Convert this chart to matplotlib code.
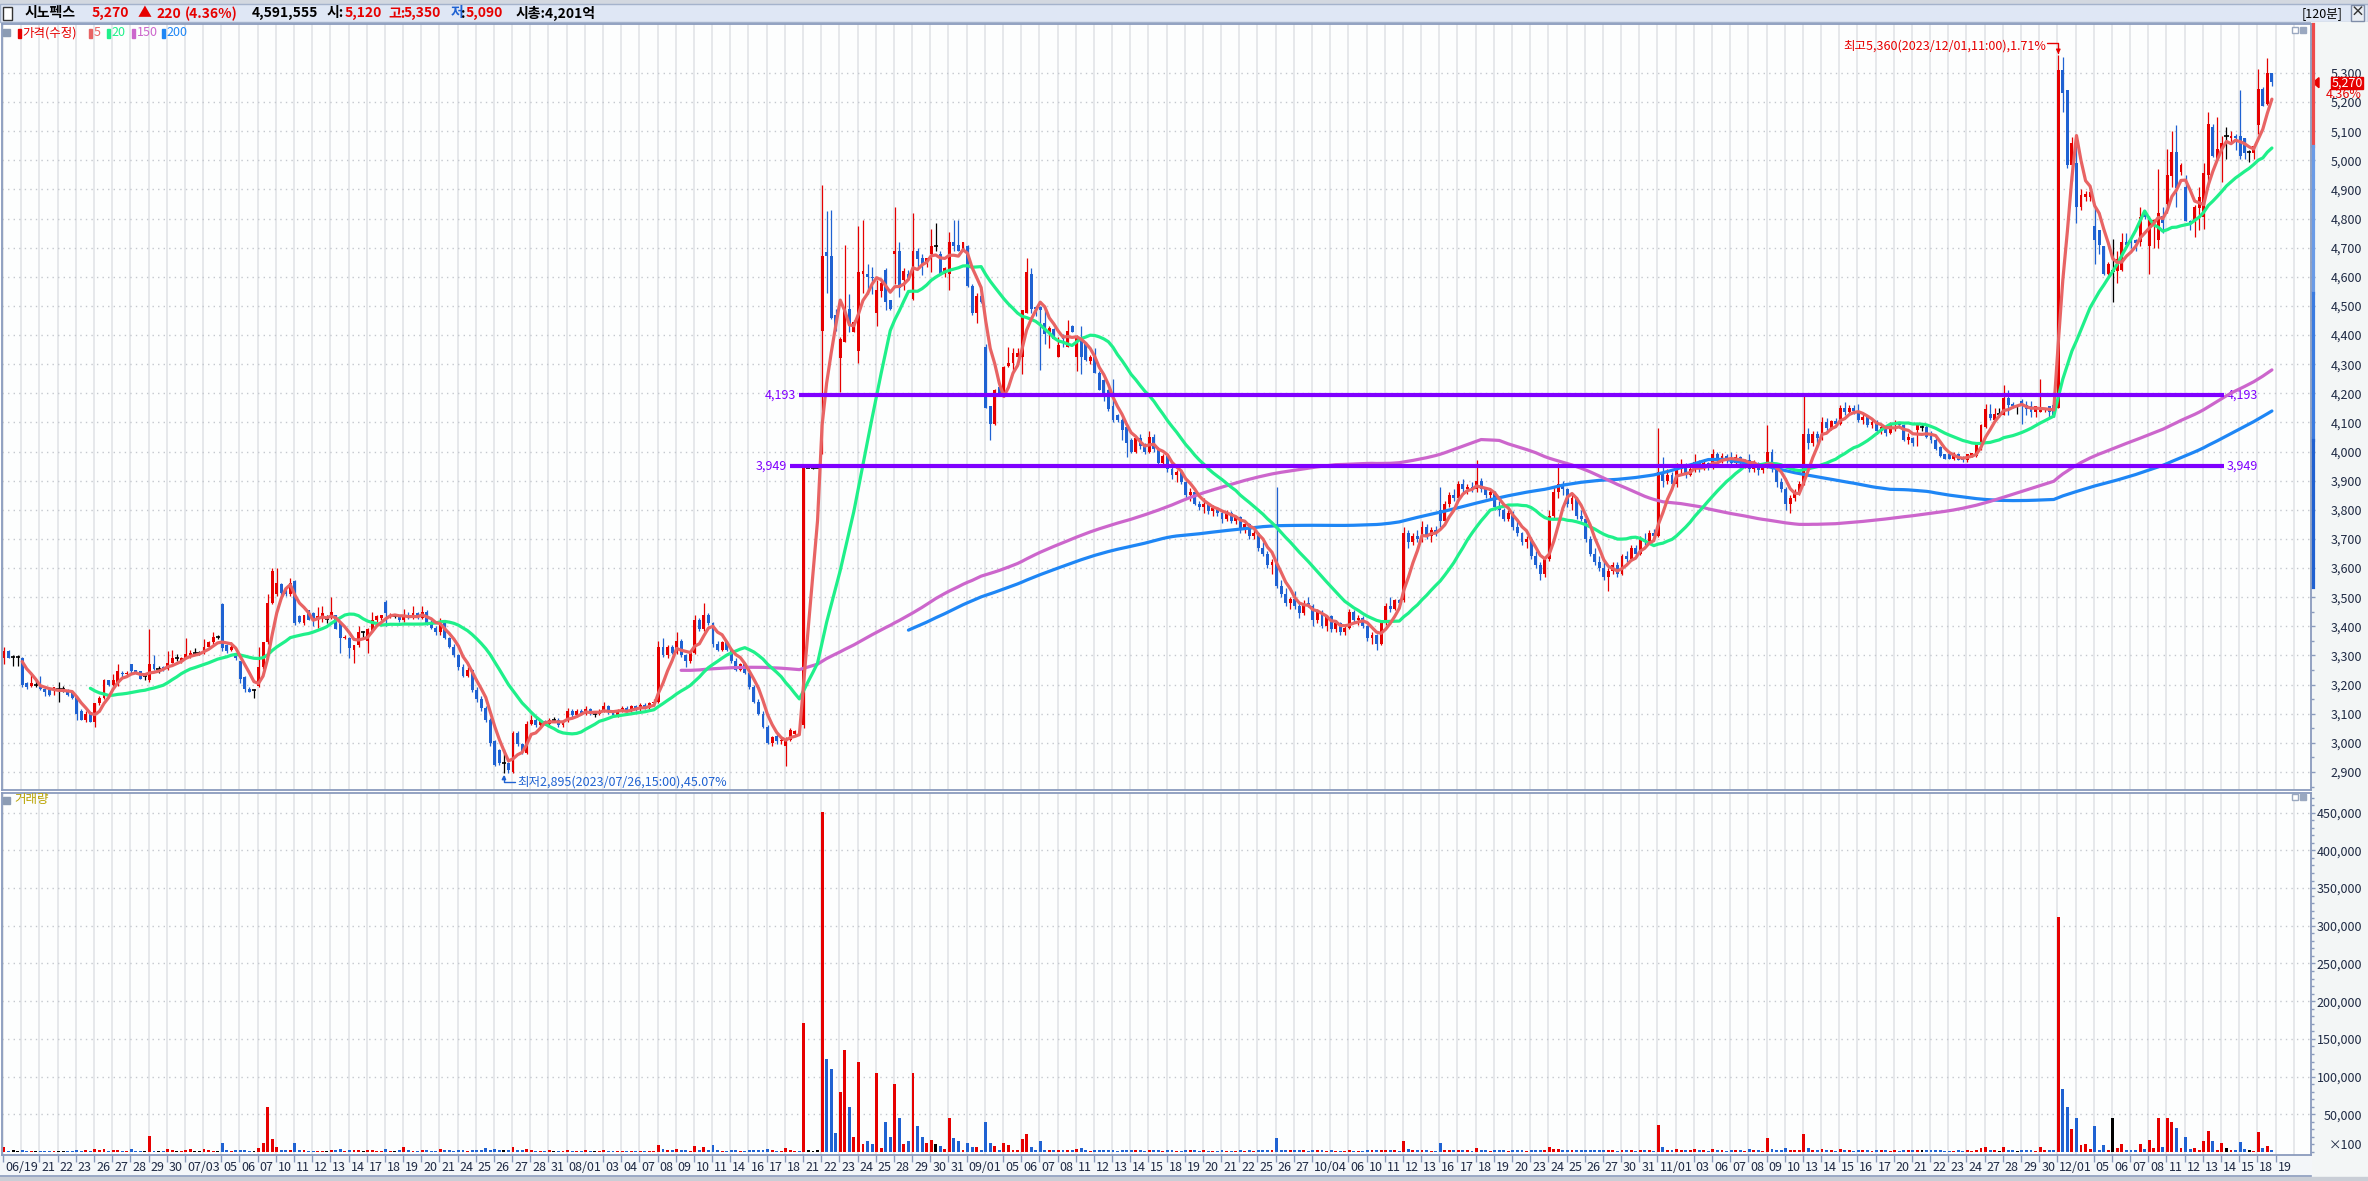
import numpy as np
import pandas as pd
import matplotlib
matplotlib.use("Agg")
import matplotlib.pyplot as plt
import matplotlib.transforms as mtransforms
from matplotlib.patches import Rectangle, Polygon
from matplotlib.ticker import FuncFormatter

plt.rcParams['font.family'] = ['Noto Sans CJK KR', 'DejaVu Sans']
plt.rcParams['font.size'] = 9

# trading days on the axis ('' where the chart skips the label), 4 bars of 120 min per day
days = ["06/19", "", "21", "22", "23", "26", "27", "28", "29", "30",
        "07/03", "", "05", "06", "07", "10", "11", "12", "13", "14", "17", "18", "19", "20", "21",
        "24", "25", "26", "27", "28", "31",
        "08/01", "", "03", "04", "07", "08", "09", "10", "11", "14", "16", "17", "18", "21", "22",
        "23", "24", "25", "28", "29", "30", "31",
        "09/01", "", "05", "06", "07", "08", "11", "12", "13", "14", "15", "18", "19", "20", "21",
        "22", "25", "26", "27",
        "10/04", "", "06", "10", "11", "12", "13", "16", "17", "18", "19", "20", "23", "24", "25",
        "26", "27", "30", "31",
        "11/01", "", "03", "06", "07", "08", "09", "10", "13", "14", "15", "16", "17", "20", "21",
        "22", "23", "24", "27", "28", "29", "30",
        "12/01", "", "05", "06", "07", "08", "11", "12", "13", "14", "15", "18", "19"]

opens = [
    3290, 3315, 3295, 3295, 3290, 3205, 3195, 3200, 3200, 3185, 3180, 3180, 3185, 3185, 3180, 3175,
    3160, 3110, 3080, 3105, 3070, 3135, 3155, 3215, 3200, 3200, 3240, 3235, 3270, 3250, 3245, 3230,
    3215, 3270, 3255, 3260, 3255, 3275, 3290, 3280, 3290, 3300, 3310, 3310, 3310, 3330, 3345, 3365,
    3475, 3335, 3320, 3305, 3280, 3225, 3185, 3180, 3195, 3260, 3345, 3480, 3510, 3545, 3525, 3510,
    3555, 3435, 3410, 3455, 3445, 3420, 3430, 3425, 3430, 3440, 3415, 3360, 3360, 3320, 3335, 3380,
    3350, 3385, 3420, 3430, 3485, 3435, 3435, 3435, 3420, 3440, 3430, 3445, 3430, 3450, 3410, 3395,
    3380, 3410, 3360, 3330, 3300, 3260, 3230, 3250, 3180, 3150, 3120, 3080, 3005, 2975, 2930, 2930,
    2900, 3035, 2995, 2965, 3065, 3080, 3060, 3075, 3065, 3080, 3080, 3060, 3075, 3110, 3095, 3110,
    3100, 3115, 3100, 3100, 3110, 3125, 3105, 3095, 3110, 3120, 3110, 3125, 3115, 3130, 3120, 3135,
    3140, 3330, 3300, 3330, 3310, 3350, 3300, 3280, 3310, 3420, 3390, 3440, 3410, 3340, 3320, 3345,
    3320, 3280, 3250, 3270, 3240, 3190, 3140, 3100, 3055, 3000, 3025, 3005, 2990, 3010, 3030, 3040,
    3060, 3945, 3945, 3945, 4415, 4685, 4670, 4470, 4320, 4375, 4490, 4410, 4345, 4610, 4610, 4600,
    4475, 4550, 4625, 4520, 4680, 4690, 4590, 4610, 4525, 4690, 4665, 4645, 4680, 4705, 4680, 4610,
    4610, 4720, 4710, 4690, 4705, 4570, 4475, 4535, 4360, 4155, 4095, 4220, 4205, 4295, 4305, 4325,
    4325, 4475, 4610, 4495, 4495, 4440, 4405, 4420, 4325, 4395, 4360, 4430, 4325, 4385, 4370, 4310,
    4325, 4270, 4245, 4210, 4155, 4125, 4110, 4085, 4040, 4000, 4045, 4020, 4000, 4050, 4010, 3960,
    3985, 3940, 3920, 3930, 3895, 3850, 3860, 3820, 3810, 3820, 3795, 3805, 3790, 3770, 3790, 3760,
    3775, 3730, 3750, 3710, 3720, 3670, 3650, 3610, 3620, 3540, 3510, 3480, 3495, 3470, 3445, 3480,
    3470, 3420, 3450, 3400, 3435, 3390, 3410, 3380, 3395, 3450, 3420, 3430, 3400, 3360, 3370, 3340,
    3410, 3470, 3460, 3490, 3490, 3720, 3690, 3710, 3700, 3740, 3710, 3730, 3800, 3760, 3820, 3850,
    3840, 3890, 3870, 3880, 3870, 3900, 3870, 3850, 3860, 3810, 3800, 3770, 3790, 3740, 3720, 3690,
    3700, 3640, 3610, 3580, 3630, 3780, 3860, 3890, 3870, 3820, 3840, 3780, 3770, 3700, 3650, 3620,
    3600, 3570, 3590, 3610, 3580, 3640, 3630, 3670, 3650, 3700, 3690, 3720, 3710, 3930, 3900, 3920,
    3890, 3940, 3950, 3920, 3940, 3965, 3940, 3960, 3945, 3990, 3970, 3985, 3975, 3960, 3980, 3960,
    3970, 3940, 3960, 3935, 3950, 4000, 3940, 3895, 3870, 3820, 3840, 3860, 3890, 4060, 4030, 4060,
    4045, 4100, 4080, 4105, 4095, 4150, 4135, 4150, 4140, 4110, 4120, 4090, 4100, 4070, 4085, 4065,
    4090, 4095, 4090, 4040, 4045, 4075, 4085, 4085, 4055, 4040, 4015, 3990, 3990, 3975, 3990, 3980,
    3970, 3985, 3985, 4030, 4085, 4130, 4110, 4130, 4125, 4185, 4165, 4155, 4175, 4160, 4155, 4135,
    4135, 4145, 4155, 4160, 4150, 5310, 5240, 4985, 4990, 4840, 4875, 4875, 4775, 4760, 4705, 4610,
    4620, 4620, 4625, 4720, 4725, 4725, 4720, 4825, 4705, 4780, 4725, 4810, 4850, 4945, 5030, 4960,
    4910, 4790, 4790, 4835, 4805, 4950, 5115, 5005, 5040, 5085, 5075, 5085, 5085, 5075, 5030, 5025,
    5120, 5245, 5195, 5300]

highs = [
    3330, 3320, 3300, 3300, 3295, 3210, 3235, 3215, 3230, 3195, 3180, 3190, 3210, 3195, 3185, 3175,
    3160, 3115, 3110, 3105, 3135, 3160, 3220, 3215, 3235, 3270, 3245, 3245, 3270, 3250, 3245, 3235,
    3390, 3300, 3265, 3265, 3315, 3320, 3305, 3295, 3360, 3320, 3325, 3315, 3355, 3350, 3380, 3370,
    3480, 3340, 3345, 3310, 3280, 3230, 3190, 3185, 3330, 3345, 3510, 3600, 3600, 3550, 3530, 3565,
    3560, 3440, 3440, 3455, 3450, 3465, 3470, 3440, 3500, 3440, 3415, 3370, 3365, 3335, 3400, 3385,
    3395, 3450, 3440, 3440, 3490, 3445, 3440, 3440, 3460, 3450, 3470, 3450, 3470, 3455, 3420, 3400,
    3430, 3415, 3365, 3340, 3305, 3270, 3260, 3255, 3190, 3160, 3125, 3085, 3010, 2980, 2980, 2935,
    3040, 3040, 3000, 3075, 3095, 3085, 3080, 3080, 3085, 3090, 3085, 3080, 3120, 3115, 3115, 3115,
    3125, 3120, 3110, 3115, 3140, 3130, 3110, 3115, 3125, 3125, 3130, 3130, 3135, 3135, 3140, 3150,
    3350, 3360, 3335, 3335, 3380, 3355, 3305, 3315, 3440, 3430, 3480, 3445, 3415, 3350, 3350, 3350,
    3325, 3290, 3275, 3275, 3245, 3200, 3150, 3110, 3060, 3025, 3030, 3020, 3020, 3050, 3045, 3045,
    3945, 3945, 3945, 3945, 4915, 4825, 4830, 4490, 4395, 4710, 4540, 4450, 4775, 4795, 4645, 4635,
    4590, 4590, 4630, 4520, 4840, 4720, 4630, 4625, 4820, 4700, 4680, 4665, 4765, 4785, 4690, 4635,
    4755, 4795, 4795, 4720, 4710, 4575, 4545, 4540, 4370, 4155, 4215, 4225, 4295, 4360, 4355, 4355,
    4485, 4665, 4630, 4500, 4500, 4495, 4430, 4425, 4395, 4405, 4450, 4435, 4400, 4430, 4375, 4330,
    4355, 4275, 4250, 4215, 4250, 4130, 4115, 4090, 4045, 4050, 4060, 4030, 4070, 4060, 4015, 3990,
    3990, 3960, 3935, 3935, 3900, 3875, 3865, 3830, 3840, 3825, 3815, 3810, 3800, 3800, 3795, 3780,
    3780, 3760, 3755, 3730, 3725, 3690, 3660, 3630, 3880, 3560, 3530, 3500, 3520, 3480, 3490, 3500,
    3475, 3460, 3455, 3440, 3440, 3420, 3415, 3400, 3460, 3455, 3440, 3435, 3405, 3380, 3375, 3420,
    3480, 3500, 3495, 3495, 3740, 3730, 3720, 3730, 3760, 3750, 3740, 3745, 3880, 3830, 3860, 3870,
    3900, 3905, 3890, 3895, 3970, 3910, 3880, 3870, 3865, 3830, 3805, 3800, 3795, 3760, 3725, 3710,
    3705, 3660, 3620, 3640, 3800, 3880, 3960, 3900, 3875, 3850, 3845, 3800, 3775, 3710, 3670, 3640,
    3630, 3600, 3620, 3620, 3650, 3660, 3680, 3680, 3710, 3720, 3730, 3735, 4080, 3980, 3940, 3930,
    3960, 3975, 3960, 3950, 3990, 3970, 3975, 3965, 4010, 4000, 3995, 3990, 4000, 3990, 3985, 3975,
    3990, 3970, 3965, 3960, 4090, 4010, 3950, 3910, 3880, 3850, 3870, 3900, 4190, 4080, 4070, 4070,
    4120, 4115, 4110, 4115, 4160, 4170, 4160, 4160, 4165, 4130, 4125, 4110, 4110, 4095, 4090, 4100,
    4110, 4100, 4095, 4065, 4050, 4095, 4095, 4090, 4070, 4045, 4020, 3990, 3995, 4000, 3995, 3985,
    3990, 3995, 4030, 4095, 4165, 4165, 4150, 4150, 4230, 4210, 4170, 4160, 4180, 4175, 4175, 4155,
    4250, 4150, 4155, 4160, 5360, 5355, 5240, 5080, 5080, 4900, 4895, 4900, 4835, 4760, 4705, 4650,
    4730, 4690, 4750, 4750, 4730, 4730, 4840, 4830, 4810, 4800, 4970, 4840, 5040, 5100, 5120, 4990,
    4950, 4795, 4845, 4910, 4990, 5165, 5125, 5150, 5085, 5115, 5100, 5090, 5240, 5075, 5035, 5050,
    5315, 5250, 5350, 5300]

lows = [
    3270, 3290, 3265, 3265, 3190, 3185, 3190, 3190, 3180, 3160, 3160, 3165, 3140, 3175, 3160, 3150,
    3080, 3080, 3070, 3070, 3055, 3130, 3150, 3195, 3195, 3195, 3225, 3230, 3240, 3235, 3220, 3215,
    3210, 3250, 3240, 3245, 3250, 3275, 3280, 3275, 3290, 3290, 3300, 3300, 3305, 3325, 3340, 3355,
    3315, 3310, 3315, 3285, 3205, 3175, 3175, 3155, 3190, 3255, 3340, 3475, 3505, 3505, 3505, 3505,
    3405, 3410, 3405, 3420, 3400, 3395, 3415, 3410, 3425, 3390, 3310, 3355, 3290, 3275, 3330, 3360,
    3310, 3380, 3415, 3420, 3400, 3430, 3430, 3415, 3415, 3425, 3425, 3425, 3425, 3405, 3390, 3370,
    3370, 3355, 3325, 3295, 3250, 3225, 3225, 3175, 3140, 3110, 3070, 2990, 2920, 2925, 2895, 2895,
    2895, 2990, 2960, 2960, 3060, 3055, 3055, 3060, 3060, 3070, 3055, 3055, 3070, 3090, 3090, 3095,
    3095, 3095, 3090, 3095, 3105, 3100, 3090, 3090, 3105, 3105, 3105, 3110, 3110, 3115, 3115, 3130,
    3135, 3295, 3290, 3305, 3305, 3295, 3260, 3275, 3305, 3385, 3385, 3405, 3330, 3315, 3315, 3315,
    3275, 3245, 3245, 3235, 3185, 3135, 3095, 3050, 2995, 2990, 2995, 2995, 2920, 3005, 3025, 3030,
    3050, 3945, 3940, 3945, 3990, 4545, 4455, 4415, 4205, 4375, 4410, 4410, 4305, 4545, 4540, 4540,
    4430, 4530, 4485, 4485, 4575, 4530, 4555, 4590, 4520, 4630, 4605, 4635, 4615, 4690, 4605, 4600,
    4555, 4690, 4690, 4690, 4565, 4470, 4440, 4510, 4150, 4040, 4090, 4200, 4200, 4290, 4270, 4305,
    4265, 4475, 4475, 4465, 4280, 4370, 4355, 4385, 4325, 4360, 4360, 4410, 4275, 4265, 4310, 4300,
    4270, 4210, 4175, 4140, 4100, 4100, 4040, 3980, 3995, 3995, 4010, 3990, 3995, 4000, 3955, 3950,
    3930, 3905, 3895, 3890, 3840, 3830, 3815, 3800, 3790, 3785, 3780, 3780, 3755, 3760, 3755, 3750,
    3720, 3720, 3700, 3700, 3660, 3640, 3600, 3580, 3530, 3500, 3470, 3460, 3460, 3430, 3440, 3465,
    3400, 3410, 3395, 3385, 3380, 3380, 3370, 3370, 3390, 3410, 3405, 3395, 3350, 3340, 3320, 3335,
    3405, 3450, 3455, 3465, 3485, 3670, 3680, 3690, 3690, 3700, 3690, 3710, 3740, 3755, 3810, 3830,
    3830, 3860, 3855, 3860, 3860, 3860, 3840, 3840, 3800, 3780, 3760, 3760, 3730, 3710, 3680, 3670,
    3630, 3600, 3560, 3570, 3625, 3770, 3840, 3850, 3810, 3800, 3770, 3760, 3690, 3640, 3610, 3590,
    3560, 3520, 3580, 3570, 3575, 3620, 3625, 3640, 3645, 3680, 3685, 3700, 3705, 3880, 3890, 3880,
    3880, 3920, 3910, 3915, 3930, 3930, 3935, 3935, 3940, 3960, 3960, 3960, 3950, 3955, 3950, 3945,
    3930, 3930, 3920, 3925, 3945, 3930, 3880, 3860, 3800, 3790, 3830, 3850, 3885, 4010, 4020, 4030,
    4040, 4070, 4075, 4085, 4090, 4125, 4130, 4130, 4100, 4095, 4085, 4080, 4060, 4060, 4055, 4060,
    4070, 4080, 4035, 4025, 4020, 4020, 4070, 4045, 4030, 4005, 3980, 3975, 3975, 3970, 3970, 3965,
    3965, 3980, 3980, 4005, 4080, 4110, 4105, 4120, 4125, 4125, 4150, 4130, 4095, 4125, 4120, 4120,
    4135, 4135, 4120, 4120, 4150, 5165, 4975, 4930, 4785, 4830, 4860, 4860, 4645, 4680, 4605, 4605,
    4515, 4580, 4620, 4700, 4700, 4690, 4705, 4800, 4610, 4700, 4700, 4750, 4820, 4910, 4840, 4950,
    4790, 4760, 4735, 4760, 4765, 4910, 5010, 5000, 4925, 5005, 5060, 5035, 5005, 5005, 4995, 5005,
    5090, 5185, 5190, 5255]

closes = [
    3315, 3290, 3295, 3295, 3200, 3190, 3205, 3200, 3185, 3175, 3165, 3190, 3185, 3185, 3165, 3155,
    3100, 3080, 3100, 3070, 3135, 3155, 3215, 3200, 3215, 3245, 3235, 3240, 3245, 3235, 3220, 3230,
    3270, 3255, 3255, 3250, 3275, 3290, 3290, 3290, 3305, 3310, 3310, 3310, 3330, 3345, 3365, 3365,
    3325, 3315, 3330, 3290, 3220, 3185, 3175, 3180, 3260, 3345, 3480, 3590, 3550, 3515, 3510, 3550,
    3410, 3415, 3440, 3420, 3420, 3435, 3445, 3425, 3450, 3390, 3360, 3365, 3325, 3335, 3380, 3380,
    3390, 3420, 3435, 3440, 3445, 3440, 3435, 3420, 3440, 3430, 3445, 3430, 3450, 3410, 3395, 3380,
    3410, 3360, 3330, 3300, 3260, 3230, 3250, 3180, 3150, 3120, 3080, 3000, 2925, 2930, 2930, 2905,
    3035, 2995, 2970, 3065, 3080, 3060, 3075, 3065, 3080, 3080, 3060, 3075, 3110, 3095, 3110, 3100,
    3115, 3100, 3100, 3110, 3125, 3105, 3095, 3110, 3120, 3110, 3125, 3115, 3130, 3120, 3135, 3140,
    3330, 3300, 3330, 3310, 3350, 3300, 3280, 3310, 3420, 3390, 3440, 3410, 3340, 3320, 3345, 3320,
    3280, 3250, 3270, 3240, 3190, 3140, 3100, 3055, 3000, 3020, 3005, 3010, 3010, 3045, 3040, 3035,
    3945, 3945, 3945, 3945, 4670, 4670, 4460, 4415, 4385, 4485, 4430, 4445, 4615, 4620, 4600, 4595,
    4555, 4580, 4515, 4490, 4690, 4560, 4620, 4595, 4690, 4660, 4640, 4665, 4705, 4705, 4610, 4630,
    4720, 4705, 4690, 4720, 4570, 4475, 4535, 4515, 4150, 4095, 4210, 4200, 4290, 4305, 4340, 4340,
    4485, 4615, 4490, 4490, 4485, 4405, 4425, 4385, 4365, 4385, 4415, 4410, 4395, 4325, 4315, 4325,
    4270, 4210, 4200, 4145, 4110, 4110, 4075, 4030, 4000, 4045, 4020, 4000, 4050, 4010, 3960, 3985,
    3940, 3920, 3930, 3895, 3850, 3860, 3820, 3810, 3820, 3795, 3805, 3790, 3770, 3790, 3760, 3775,
    3730, 3750, 3710, 3720, 3670, 3650, 3610, 3620, 3540, 3510, 3480, 3495, 3470, 3445, 3480, 3470,
    3420, 3450, 3400, 3435, 3390, 3410, 3380, 3395, 3450, 3420, 3430, 3400, 3360, 3370, 3340, 3410,
    3470, 3460, 3490, 3480, 3720, 3690, 3710, 3700, 3740, 3710, 3730, 3720, 3760, 3820, 3850, 3840,
    3890, 3870, 3880, 3870, 3900, 3870, 3850, 3860, 3810, 3800, 3770, 3790, 3740, 3720, 3690, 3700,
    3640, 3610, 3580, 3630, 3780, 3860, 3890, 3870, 3820, 3840, 3780, 3770, 3700, 3650, 3620, 3600,
    3570, 3590, 3610, 3580, 3640, 3630, 3670, 3650, 3700, 3690, 3720, 3710, 3930, 3900, 3920, 3890,
    3940, 3950, 3920, 3940, 3965, 3940, 3960, 3945, 3990, 3970, 3985, 3975, 3960, 3980, 3960, 3970,
    3940, 3960, 3935, 3950, 4000, 3940, 3895, 3870, 3820, 3840, 3860, 3890, 4060, 4030, 4060, 4045,
    4100, 4080, 4105, 4095, 4150, 4135, 4150, 4140, 4110, 4120, 4090, 4100, 4070, 4085, 4065, 4090,
    4095, 4090, 4040, 4050, 4030, 4090, 4085, 4050, 4040, 4010, 3985, 3975, 3975, 3995, 3970, 3970,
    3990, 3995, 4030, 4090, 4145, 4115, 4130, 4130, 4185, 4160, 4155, 4155, 4155, 4145, 4135, 4155,
    4150, 4150, 4135, 4125, 5310, 5230, 4985, 5060, 4840, 4880, 4885, 4890, 4725, 4710, 4610, 4645,
    4620, 4660, 4720, 4710, 4715, 4715, 4805, 4805, 4795, 4795, 4820, 4785, 4950, 5030, 4905, 4985,
    4790, 4780, 4840, 4875, 4955, 5125, 5015, 5040, 5060, 5085, 5085, 5075, 5015, 5025, 5030, 5050,
    5245, 5185, 5300, 5270]

# volume in thousands (axis unit is x100 shares)
volumes_k = [
    7, 1.5, 2.5, 1.5, 2.6, 1.5, 1.5, 1, 1.2, 1, 1.5, 1, 1.5, 1.5, 1.2, 1,
    3, 1.5, 2, 1.5, 3.5, 2, 4, 1, 3, 2.5, 1, 1, 3.5, 1, 1, 0.8,
    21, 1.5, 1, 1, 3.5, 2.5, 1.5, 1, 3, 3.5, 1.5, 1.5, 3.5, 2.5, 1.5, 1.5,
    12.4, 2, 1.5, 2, 3, 3, 1.5, 1, 5, 12, 60, 17, 6, 3, 2, 3,
    11.5, 3, 2.5, 1.5, 1.5, 1, 1.5, 1, 3, 2, 3.5, 1, 2.5, 2, 2.5, 1,
    2, 3, 1.5, 1, 3.5, 1.5, 1, 2, 7, 2, 1.5, 1.5, 2, 2, 1.5, 1.5,
    4, 2, 2, 1.5, 2.5, 2, 1.5, 2.5, 3, 2, 5, 3, 4, 2, 3, 2,
    6, 2, 2, 4, 2.5, 1.5, 1, 1, 2, 1.5, 1, 1, 3, 1.5, 1.5, 1,
    2.5, 1.5, 1, 1, 2, 1.5, 1, 1, 1.5, 1, 1, 1, 1.5, 1, 1, 1.5,
    9, 4, 2.5, 2, 3.5, 2, 2, 1.5, 8, 2.5, 6, 2, 9, 2, 1.5, 1.5,
    2.5, 2, 1.5, 1.5, 2.5, 2, 2, 2.5, 4, 2, 1.5, 1.5, 5, 3, 1.5, 1.5,
    171, 2, 1.5, 3, 451, 123, 110, 25, 80, 135, 60, 20, 120, 10, 15, 10,
    105, 5, 40, 20, 90, 45, 10, 15, 105, 35, 20, 12, 16, 10, 8, 4,
    45, 18, 14, 3, 12, 7, 7, 3, 40, 12, 8, 3, 12, 9, 3, 2,
    17, 24, 7, 2, 14, 2, 2, 3, 3, 2, 2.5, 2, 4, 5, 3, 1.5,
    3, 3, 3, 2, 3, 1.5, 3, 3, 2.5, 2, 2, 1.5, 3, 2, 2.5, 1.5,
    3, 2, 1.5, 1.5, 2.5, 2, 2, 1.5, 2, 1.5, 1.5, 1.5, 2, 1.5, 1.5, 1,
    2, 1.5, 2, 1, 2.5, 2, 2, 2, 18, 3, 2.5, 2, 2.5, 2, 2, 1.5,
    3, 2, 2, 1.5, 2.5, 1.5, 1.5, 1.5, 2.5, 1.5, 1.5, 1.5, 3, 2, 2.5, 2,
    3, 2, 2, 1.5, 14, 4, 2.5, 2, 3, 2, 1.5, 1.5, 11.5, 3, 2.5, 2,
    3, 2, 2, 1.5, 5, 2.5, 2, 1.5, 3, 2, 2, 1.5, 2.5, 2, 2, 1.5,
    3, 2.5, 3, 2, 7, 4, 3.5, 2, 3, 2, 2.5, 2, 3, 2.5, 2.5, 2,
    3, 2.5, 2, 1.5, 2.5, 2, 2, 1.5, 2.5, 2, 2, 1.5, 36, 6, 3, 2.5,
    4, 2.5, 2, 2, 4, 2, 2, 1.5, 4, 2, 2, 1.5, 3, 2, 2, 1.5,
    4, 2, 2, 1.5, 18, 4, 3, 2.5, 5, 3, 2, 2, 24, 5, 3, 2,
    4, 2.5, 2, 1.5, 4, 2.5, 2, 1.5, 3, 2, 2, 1.5, 3, 2, 2, 1.5,
    2, 1.5, 3, 2, 2, 3, 2, 2, 2, 2.5, 3, 1.5, 1.5, 1.5, 2, 1.5,
    2, 1.5, 3, 5, 7, 3, 2, 1.5, 7, 3, 2, 1.5, 3, 2, 2, 1.5,
    6, 2, 2, 3, 312, 83, 60, 30, 45, 9, 10.6, 4, 35, 2, 9, 3,
    45, 5, 10.6, 3, 2, 3, 10.6, 4, 16, 5, 45, 6, 45, 40, 32, 5,
    20, 4, 5, 2, 15, 28, 15, 3, 12, 5, 3, 2, 13, 4, 3, 1,
    26, 5, 8, 2]

ma_periods = [5, 20, 150, 200]
ma_colors = ['#e86464', '#1ff08a', '#cc66cc', '#1e86f5']
level_values = [4193, 3949]          # lines drawn by the user
level_start = [175, 173]
level_end = 488.4

RED = '#e60000'
BLUE = '#1f62d2'
AXC = '#8a9bbd'
TXT = '#1f2a44'
PURPLE = '#8000ff'

W, H = 2368, 1181
fig = plt.figure(figsize=(W / 100, H / 100), dpi=100)
fig.patch.set_facecolor('white')


def rect(x0, y0, x1, y1):
    return [x0 / W, 1 - y1 / H, (x1 - x0) / W, (y1 - y0) / H]


def P(x, y):
    return (x / W, 1 - y / H)


# background strips (header, right scale, date band)
fig.add_artist(Rectangle(P(0, 4), 1, 4 / H, transform=fig.transFigure, color='#d3d8e0', zorder=0))
fig.add_artist(Rectangle(P(0, 22), 1, 18 / H, transform=fig.transFigure, facecolor='#dfe7f5',
                         edgecolor='#a5b3cc', lw=1, zorder=0))
fig.add_artist(Rectangle(P(2311, 1176), 57 / W, 1154 / H, transform=fig.transFigure,
                         color='#f3f6f6', zorder=0))
fig.add_artist(Rectangle(P(0, 1176), 2311 / W, 21 / H, transform=fig.transFigure,
                         color='#f3f6f9', zorder=0))
fig.add_artist(Rectangle(P(0, 1181), 1, 4 / H, transform=fig.transFigure, color='#c9ced6', zorder=0))
fig.add_artist(plt.Line2D([0, 2311 / W], [1 - 1176 / H] * 2, transform=fig.transFigure, color=AXC, lw=1.2))

n = len(closes)
idx = np.arange(n)
o = np.array(opens, float)
hi = np.array(highs, float)
lo = np.array(lows, float)
c = np.array(closes, float)
vol = np.array(volumes_k, float)
col = np.where(c > o, RED, np.where(c < o, BLUE, 'black'))
flat = c == o

ax = fig.add_axes(rect(2, 24, 2311, 790))
axv = fig.add_axes(rect(2, 793, 2311, 1155))
for a in (ax, axv):
    a.set_facecolor('#fdfefe')
    a.set_xlim(-0.44, 507.6)
    for s in a.spines.values():
        s.set_color(AXC)
        s.set_linewidth(1.3)
    grid_x = np.arange(len(days) + 2) * 4 - 0.2
    a.vlines(grid_x, -1e6, 1e6, color='#e0e2e6', lw=1.1, zorder=0)

# ---- price panel ----
ax.set_ylim(2838, 5468)
ax.vlines(idx, lo, hi, colors=col, lw=0.9, zorder=3)
ax.bar(idx[~flat], np.maximum(np.abs(c - o), 4)[~flat], bottom=np.minimum(o, c)[~flat],
       width=0.64, color=col[~flat], lw=0, zorder=4)
ax.hlines(c[flat], idx[flat] - 0.45, idx[flat] + 0.45, colors='black', lw=1.2, zorder=4)

s = pd.Series(c)
for per, mc in sorted(zip(ma_periods, ma_colors), reverse=True):
    ax.plot(idx, s.rolling(per).mean(), color=mc, lw=2.3, zorder=5, solid_capstyle='round')

for val, st in zip(level_values, level_start):
    ax.hlines(val, st, level_end, color=PURPLE, lw=3, zorder=6)
    ax.annotate(f"{val:,}", xy=(st, val), xytext=(-3, 0), textcoords='offset pixels',
                ha='right', va='center', color=PURPLE, fontsize=9)
    ax.annotate(f"{val:,}", xy=(level_end, val), xytext=(3, 0), textcoords='offset pixels',
                ha='left', va='center', color=PURPLE, fontsize=9)

i_max = int(np.argmax(hi))
i_min = int(np.argmin(lo))
ax.annotate("최고5,360(2023/12/01,11:00),1.71%", xy=(i_max, hi[i_max]), xytext=(-12, 9),
            textcoords='offset pixels', ha='right', va='center', color=RED, fontsize=9,
            annotation_clip=False)
ax.annotate("", xy=(i_max, hi[i_max]), xytext=(-11, 12), textcoords='offset pixels',
            arrowprops=dict(arrowstyle='-|>', color=RED, lw=1, shrinkA=0, shrinkB=1,
                            mutation_scale=6, connectionstyle='angle,angleA=0,angleB=90,rad=0'))
ax.annotate("최저2,895(2023/07/26,15:00),45.07%", xy=(i_min, lo[i_min]), xytext=(13, -8.5),
            textcoords='offset pixels', ha='left', va='center', color=BLUE, fontsize=9,
            annotation_clip=False)
ax.annotate("", xy=(i_min, lo[i_min]), xytext=(11, -8.5), textcoords='offset pixels',
            arrowprops=dict(arrowstyle='-|>', color=BLUE, lw=1, shrinkA=0, shrinkB=1,
                            mutation_scale=6, connectionstyle='angle,angleA=0,angleB=90,rad=0'))

ax.yaxis.tick_right()
ax.set_yticks(np.arange(2900, 5301, 100))
ax.set_yticks(np.arange(2850, 5451, 50), minor=True)
ax.yaxis.set_major_formatter(FuncFormatter(lambda v, p: f"{int(v):,}"))
ax.tick_params(axis='y', which='major', length=3, width=1, color=AXC, pad=33.8,
               labelsize=9, labelcolor=TXT)
ax.tick_params(axis='y', which='minor', length=2, width=1, color=AXC)
plt.setp(ax.get_yticklabels(), ha='right')
ax.tick_params(axis='x', which='both', length=0, labelbottom=False)
ax.grid(axis='y', which='major', linestyle=(0, (1, 3)), color='#c4c8ce', lw=1)
ax.set_axisbelow(True)

# ---- volume panel ----
axv.set_ylim(-4, 476.1)
axv.bar(idx, vol, width=0.64, color=col, lw=0, zorder=3)
axv.yaxis.tick_right()
axv.set_yticks(np.arange(50, 451, 50))
axv.set_yticks(np.arange(0, 471, 10), minor=True)
axv.yaxis.set_major_formatter(FuncFormatter(lambda v, p: f"{int(v * 1000):,}"))
axv.tick_params(axis='y', which='major', length=3, width=1, color=AXC, pad=33.8,
                labelsize=9, labelcolor=TXT)
axv.tick_params(axis='y', which='minor', length=2, width=1, color=AXC)
plt.setp(axv.get_yticklabels(), ha='right')
axv.grid(axis='y', which='major', linestyle=(0, (1, 3)), color='#c4c8ce', lw=1)
axv.text(1.0221, 8, "×100", transform=mtransforms.blended_transform_factory(axv.transAxes, axv.transData),
         ha='right', va='center', color=TXT, fontsize=9)

lab_pos = [4 * d - 0.2 for d, t in enumerate(days) if t]
lab_txt = [t for t in days if t]
axv.set_xticks(lab_pos)
axv.set_xticklabels(lab_txt)
axv.tick_params(axis='x', length=5, width=1, color=AXC, pad=-1, labelsize=9, labelcolor=TXT)
shift = mtransforms.ScaledTranslation(2 / 100, 0, fig.dpi_scale_trans)
for t in axv.get_xticklabels():
    t.set_ha('left')
    t.set_transform(t.get_transform() + shift)

# ---- header and legends ----
hy = 13.5
fig.add_artist(Rectangle(P(3, 20), 9 / W, 13 / H, transform=fig.transFigure, facecolor='white',
                         edgecolor='#333333', lw=1))
head = [(25, "시노펙스", 'black'), (92, "5,270", RED), (138, "▲", RED), (156, "220", RED),
        (185, "(4.36%)", RED), (252, "4,591,555", 'black'), (327, "시:", 'black'), (345, "5,120", RED),
        (388, "고:", RED), (404, "5,350", RED), (451, "저", BLUE), (461, ":", 'black'),
        (466, "5,090", RED), (516, "시총:4,201억", 'black')]
for x, t, cc in head:
    fig.text(*P(x, hy), t, color=cc, fontsize=10, fontweight='bold', va='center', ha='left')
fig.text(*P(2343, hy), "[120분]", color='black', fontsize=9, va='center', ha='right')
fig.add_artist(Rectangle(P(2351, 21), 13 / W, 16 / H, transform=fig.transFigure,
                         facecolor='#e9edf3', edgecolor='#7f8da8', lw=1))
fig.text(*P(2357.5, 13), "×", color='#333333', fontsize=10, fontweight='bold', va='center', ha='center')

# price legend
fig.add_artist(Rectangle(P(3, 36), 7 / W, 7 / H, transform=fig.transFigure, color='#8c9cb4'))
leg = [(18, "가격(수정)", RED, RED), (89, "5", '#e86464', '#e86464'), (107, "20", '#1ff08a', '#1ff08a'),
       (132, "150", '#cc66cc', '#cc66cc'), (162, "200", '#1e86f5', '#1e86f5')]
for x, t, mc, tc in leg:
    fig.add_artist(Rectangle(P(x, 38), 2.5 / W, 9 / H, transform=fig.transFigure, color=mc))
    fig.text(*P(x + 4.5, 33), t, color=tc, fontsize=9, va='center', ha='left')
# volume legend
fig.add_artist(Rectangle(P(3, 804), 7 / W, 7 / H, transform=fig.transFigure, color='#8c9cb4'))
fig.text(*P(14, 800), "거래량", color='#b9a300', fontsize=9, va='center', ha='left')

# small panel buttons
for yy in (33, 800):
    fig.add_artist(Rectangle(P(2292, yy), 6 / W, 6 / H, transform=fig.transFigure,
                             facecolor='white', edgecolor='#9aa8c0', lw=1))
    fig.add_artist(Rectangle(P(2300, yy), 6 / W, 6 / H, transform=fig.transFigure,
                             facecolor='#9aa8c0', edgecolor='#9aa8c0', lw=1))

# right scale range bar and last price tag
for (y0, y1, cc) in [(24, 146, '#ee4b4b'), (146, 293, '#6a9be6'), (293, 440, '#3a7be0'), (440, 587, '#1f60d0')]:
    fig.add_artist(plt.Line2D([2312.5 / W] * 2, [1 - y0 / H, 1 - y1 / H], transform=fig.transFigure,
                              color=cc, lw=2.3, zorder=5))
last = c[-1]
ylast = ax.transData.transform((0, last))[1]
yl = H - ylast + 1
fig.add_artist(Polygon([P(2313, yl), P(2319, yl - 5), P(2319, yl + 5)], closed=True,
                       transform=fig.transFigure, color=RED))
fig.add_artist(Rectangle(P(2331, yl + 6), 32 / W, 12 / H, transform=fig.transFigure, color=RED, zorder=6))
fig.text(*P(2347, yl), f"{int(last):,}", color='white', fontsize=9, va='center', ha='center', zorder=7)
fig.text(*P(2362, yl + 12), "4.36%", color=RED, fontsize=9, va='center', ha='right', zorder=7)

fig.savefig("out.png", dpi=100, facecolor=fig.get_facecolor())
